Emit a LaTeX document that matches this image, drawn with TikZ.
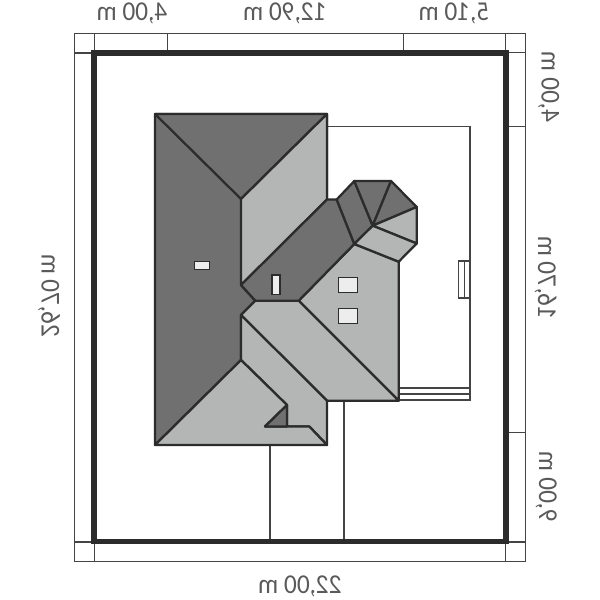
\documentclass[tikz,border=0pt]{standalone}
\usepackage{fontspec}
\usepackage{graphicx}
\setmainfont{Carlito}
\definecolor{roofdark}{HTML}{707070}
\definecolor{rooflight}{HTML}{B4B6B5}
\definecolor{ink}{HTML}{2C2C2C}
\definecolor{thinink}{HTML}{444444}
\definecolor{labelink}{HTML}{5A5A5A}
\definecolor{glass}{HTML}{EDEDED}
\tikzset{
  roofline/.style={draw=ink,line width=2.6pt,line join=round},
  darkroof/.style={roofline,fill=roofdark},
  lightroof/.style={roofline,fill=rooflight},
  thinline/.style={draw=thinink,line width=1.3pt},
  plotline/.style={draw=ink,line width=6pt,line join=miter},
  skylight/.style={draw=ink,line width=1.8pt,fill=glass},
  dimlabel/.style={inner sep=0pt,anchor=base,text=labelink,font=\fontsize{31}{31}\selectfont},
  dimside/.style={dimlabel,rotate=-90}
}
\newcommand{\mirr}[1]{\scalebox{-0.93}[1]{#1}}
\begin{document}
\begin{tikzpicture}[x=0.04cm,y=-0.04cm]
\useasboundingbox (0,0) rectangle (600,600);
\fill[white] (0,0) rectangle (600,600);
% outer dimension frame
\draw[thinline] (74.7,33.3) rectangle (525.7,561.7);
\draw[thinline] (94.5,33.3)--(94.5,53) (167.7,33.3)--(167.7,53) (403.7,33.3)--(403.7,53) (505.7,33.3)--(505.7,53);
\draw[thinline] (74.7,53)--(94,53) (74.7,542)--(94,542);
\draw[thinline] (94.5,542)--(94.5,561.7) (505.7,542)--(505.7,561.7);
\draw[thinline] (506,52.7)--(525.7,52.7) (506,126.7)--(525.7,126.7) (506,432.3)--(525.7,432.3) (506,542)--(525.7,542);
% house outline and terrace
\draw[thinline] (327,126.5)--(470,126.5)--(470,400)--(398.7,400);
\draw[thinline] (398.7,388)--(470,388) (398.7,394)--(470,394);
\draw[thinline] (470,261)--(458.7,261)--(458.7,298)--(470,298) (464.7,261)--(464.7,298);
\draw[thinline] (270,445)--(270,542) (344,401)--(344,542);
% plot
\draw[plotline] (94,53) rectangle (506,541.8);
% main roof
\path[darkroof] (155,114)--(327,114)--(327,199)--(241,285)--(255.3,300.7)--(241,315)--(241,360)--(155,445)--cycle;
\path[darkroof] (155,114)--(327,114)--(241,199)--cycle;
\path[lightroof] (241,199)--(327,114)--(327,199.5)--(241,285)--cycle;
% lower wing
\path[lightroof] (354.3,244)--(398.7,261.7)--(398.7,400.7)--(298.7,300.7)--cycle;
\path[lightroof] (255.3,300.7)--(298.7,300.7)--(398.7,400.7)--(327,400.7)--(241,315)--cycle;
\path[lightroof] (241,315)--(327,400.7)--(327,445)--(309.3,426.5)--(287,426.5)--(287,405)--(241,360)--cycle;
\path[lightroof] (155,445)--(241,360)--(287,405)--(265,426.5)--(309.3,426.5)--(327,445)--cycle;
\path[darkroof] (287,405)--(265,426.5)--(287,426.5)--cycle;
% dark gable
\path[darkroof] (241,285)--(327,199.5)--(336.7,199.5)--(354.3,244)--(298.7,300.7)--(255.3,300.7)--cycle;
% turret
\path[darkroof] (336.7,199.5)--(354.3,181)--(372.7,225.7)--(354.3,244)--cycle;
\path[darkroof] (354.3,181)--(391,181)--(372.7,225.7)--cycle;
\path[darkroof] (391,181)--(416.7,207)--(372.7,225.7)--cycle;
\path[lightroof] (416.7,207)--(416.7,243.5)--(372.7,225.7)--cycle;
\path[lightroof] (372.7,225.7)--(416.7,243.5)--(398.7,261.7)--(354.3,244)--cycle;
% skylights
\draw[skylight] (194.7,261.7) rectangle (209.5,269.5);
\draw[skylight] (272.2,275.2) rectangle (280,294.5);
\draw[skylight] (338.5,277.7) rectangle (357.7,292.7);
\draw[skylight] (338.5,308.7) rectangle (357.7,323.3);
% labels
\node[dimlabel] (topa) at (132,20.5) {\mirr{4,00 m}};
\node[dimlabel] (topb) at (285,20.5) {\mirr{12,90 m}};
\node[dimlabel] (topc) at (454,20.5) {\mirr{5,10 m}};
\node[dimlabel] (bottom) at (300,593) {\mirr{22,00 m}};
\node[dimside] (left) at (41.7,296) {\mirr{26,70 m}};
\node[dimside] (righta) at (541.7,87) {\mirr{4,00 m}};
\node[dimside] (rightb) at (538,278) {\mirr{16,70 m}};
\node[dimside] (rightc) at (539,487) {\mirr{9,00 m}};
\end{tikzpicture}
\end{document}
